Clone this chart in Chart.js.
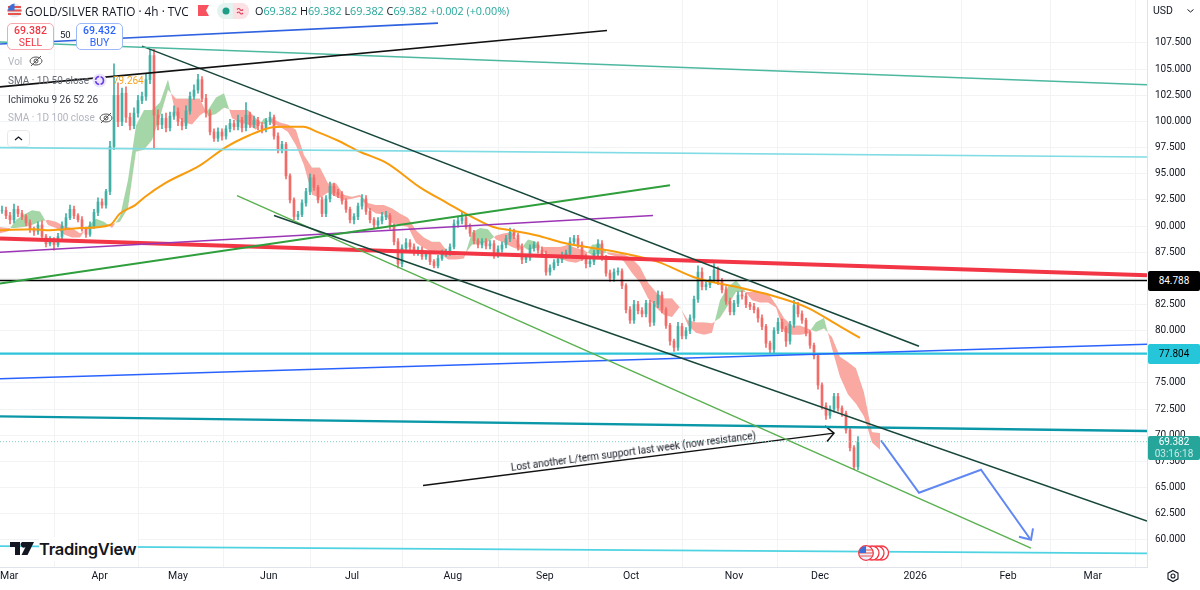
<!DOCTYPE html>
<html>
<head>
<meta charset="utf-8">
<script src="https://cdn.jsdelivr.net/npm/chart.js@4"></script>
<style>
html, body { margin: 0; padding: 0; background: #fff; }
#wrap { position: relative; width: 1200px; height: 590px; overflow: hidden; font-family: Roboto, sans-serif; color: #131722; }
#gold_silver { position: absolute; left: 0; top: 0; }
.t { position: absolute; white-space: nowrap; font-size: 10px; line-height: 14px; font-family: Roboto, sans-serif; }
.tag { position: absolute; left: 1148px; width: 52px; text-align: center; font-size: 10px; border-radius: 2px; }
.gray { color: #b2b5be; }
.box { position: absolute; background: #fff; border-radius: 5px; text-align: center; box-sizing: border-box; width: 47px; height: 27px; top: 23px; font-size: 10.5px; line-height: 12px; padding-top: 1px; }
svg { position: absolute; overflow: visible; }
</style>
</head>
<body>
<div id="wrap">
<canvas id="gold_silver" width="1200" height="590"></canvas>

<div class="t" style="left:25px;top:3px;font-size:11.8px;line-height:16px;font-family:'Open Sans';">GOLD/SILVER RATIO · 4h · TVC</div>
<svg style="left:7px;top:3px" width="15" height="15"><circle cx="7.5" cy="7.5" r="7" fill="#e9e9ee"/><path d="M1 4h13M0.5 7.5h14M1 11h13" stroke="#e8524a" stroke-width="2"/><path d="M1 7.5A7 7 0 0 1 7.5 .5V7.5Z" fill="#3b6fd8"/></svg>
<svg style="left:198px;top:5px" width="11" height="11"><path d="M0 0H11L8 5.5 11 11H0Z" fill="#f7525f"/></svg>
<svg style="left:217px;top:3px" width="32" height="16"><rect width="32" height="16" rx="8" fill="#e4f3ef"/><path d="M16 0h8a8 8 0 0 1 0 16h-8Z" fill="#fbe0e4"/><circle cx="9" cy="8" r="3.5" fill="#1e9e86"/><path d="M20 6.5q2-2 3 0t3 0M20 10q2-2 3 0t3 0" fill="none" stroke="#e0405a" stroke-width="1.2"/></svg>
<div class="t" style="left:255px;top:4px;font-size:10.8px;font-family:'Open Sans';"><span>O</span><span style="color:#26a69a">69.382</span> <span>H</span><span style="color:#26a69a">69.382</span> <span>L</span><span style="color:#26a69a">69.382</span> <span>C</span><span style="color:#26a69a">69.382</span> <span style="color:#26a69a">+0.002 (+0.00%)</span></div>

<div class="box" style="left:7px;border:1px solid #f7a6ad;color:#f23645;"><b style="font-weight:500">69.382</b><br>SELL</div>
<div class="t" style="left:60px;top:28px;font-size:9.5px;">50</div>
<div class="box" style="left:76px;border:1px solid #9db8f8;color:#2962ff;"><b style="font-weight:500">69.432</b><br>BUY</div>

<div class="t gray" style="left:8px;top:55px;">Vol</div>
<svg style="left:29px;top:55px" width="14" height="12"><ellipse cx="7" cy="6" rx="6" ry="4" fill="none" stroke="#555" stroke-width="1"/><circle cx="7" cy="6" r="2" fill="none" stroke="#555"/><path d="M2 11L12 1" stroke="#555"/></svg>
<div class="t" style="left:8px;top:74px;color:#6a6d78;">SMA · 1D 50 close</div>
<svg style="left:92px;top:73px" width="15" height="15"><circle cx="7.5" cy="7.5" r="7" fill="#ece6fb"/><circle cx="7.5" cy="7.5" r="4" fill="none" stroke="#6a3de8" stroke-width="1.6" stroke-dasharray="5 1.5"/></svg>
<div class="t" style="left:113px;top:74px;color:#f7a21b;">79.264</div>
<div class="t" style="left:8px;top:93px;color:#3a3d47;">Ichimoku 9 26 52 26</div>
<div class="t gray" style="left:8px;top:111px;">SMA · 1D 100 close</div>
<svg style="left:99px;top:112px" width="14" height="12"><ellipse cx="7" cy="6" rx="6" ry="4" fill="none" stroke="#555" stroke-width="1"/><circle cx="7" cy="6" r="2" fill="none" stroke="#555"/><path d="M2 11L12 1" stroke="#555"/></svg>
<svg style="left:7px;top:130px" width="23" height="17"><rect x=".5" y=".5" width="22" height="16" rx="3" fill="#fff" stroke="#e6e7eb"/><path d="M8 10l3.500-3 3.500 3" fill="none" stroke="#131722" stroke-width="1.2"/></svg>

<div class="t" style="left:511px;top:461px;font-size:10px;transform:rotate(-7.5deg);transform-origin:left center;">Lost another L/term support last week (now resistance)</div>

<svg style="left:10px;top:542px" width="24" height="13"><path d="M0 0H10V13H5V5H0Z M12 0H24L17.500 13H11.500L15.500 5 A2.500 2.500 0 0 1 12 0Z" fill="#131722"/></svg>
<div class="t" style="left:39px;top:537px;font-size:16.5px;line-height:24px;font-weight:600;font-family:Inter,sans-serif;letter-spacing:-.3px;background:#fff;padding-right:2px;">TradingView</div>

<svg style="left:858px;top:545px" width="32" height="16"><g fill="#fff" stroke="#f23645" stroke-width="1.300"><circle cx="23.500" cy="8" r="7"/><circle cx="19" cy="8" r="7"/><circle cx="14" cy="8" r="7"/></g><circle cx="8" cy="8" r="7.300" fill="#eef" stroke="#f23645" stroke-width="1.300"/><path d="M1 5h14M1 8h14M2 11h12" stroke="#e8524a"/><path d="M1 8A7 7 0 0 1 8 1V8Z" fill="#3b6fd8"/></svg>

<div class="t" style="left:1153px;top:4px;font-size:10.5px;">USD</div>
<svg style="left:1187px;top:9px" width="7" height="4"><path d="M.5 .5L3.500 3 6.500 .5" fill="none" stroke="#131722"/></svg>
<div class="tag" style="top:271px;height:20px;line-height:20px;background:#000;color:#fff;">84.788</div>
<div class="tag" style="top:344px;height:20px;line-height:20px;background:#26c6da;color:#000;">77.804</div>
<div class="tag" style="top:436px;height:24px;line-height:12px;background:#26a69a;color:#fff;">69.382<br><span style="opacity:.75">03:16:18</span></div>
<svg style="left:1166px;top:569px" width="14" height="14"><path d="M7 1.500L12 4.200V9.800L7 12.500 2 9.800V4.200Z" fill="none" stroke="#131722" stroke-width="1.100"/><circle cx="7" cy="7" r="2" fill="none" stroke="#131722" stroke-width="1.100"/></svg>
</div>

<script>
// x is counted in chart sessions, one candle per session
const monthTicks = [2.3, 24.9, 44.5, 67.2, 88, 113.2, 136.2, 157.8, 183.5, 205, 228.8, 252, 273.2]
const monthLabels = ['Mar', 'Apr', 'May', 'Jun', 'Jul', 'Aug', 'Sep', 'Oct', 'Nov', 'Dec', '2026', 'Feb', 'Mar']
const priceTicks = [107.5, 105, 102.5, 100, 97.5, 95, 92.5, 90, 87.5, 85, 82.5, 80, 75, 72.5, 70, 67.5, 65, 62.5, 60]

const closes = [
    91.5,91.0,90.6,91.6,91.2,90.9,90.3,89.7,89.5,90.1,
    89.0,88.3,88.7,88.2,89.0,90.0,90.8,91.6,91.0,90.6,
    89.7,89.2,90.0,91.3,92.3,92.0,93.3,97.6,102.5,100.0,
    102.7,100.4,99.6,100.8,102.0,102.4,104.0,106.3,100.6,99.7,
    100.3,99.4,100.5,100.9,100.0,99.6,101.0,102.4,103.0,104.0,
    102.2,100.8,99.0,98.4,99.0,98.6,99.3,99.8,99.5,100.1,
    99.4,100.6,99.7,100.1,99.6,99.3,100.0,100.4,98.6,97.3,
    97.8,94.8,92.5,90.9,91.1,92.2,93.3,94.6,93.7,92.5,
    91.2,92.6,93.8,93.2,93.0,92.4,91.6,90.6,90.9,91.9,
    92.6,91.4,90.6,90.1,90.5,90.9,91.0,90.0,88.5,86.4,
    87.9,88.4,88.0,87.5,87.7,87.1,87.3,86.6,86.2,86.9,
    87.4,87.5,88.0,90.2,90.5,90.8,89.9,89.3,88.6,88.2,
    88.5,88.1,88.3,87.3,87.8,88.2,88.8,89.4,89.1,88.0,
    86.8,87.0,87.9,88.2,87.7,87.3,85.6,86.0,86.5,86.8,
    87.2,87.4,88.5,88.8,88.2,87.0,86.4,86.6,87.4,88.3,
    87.0,85.5,85.0,85.6,85.7,84.3,82.0,81.0,82.5,81.9,
    81.6,82.6,80.8,82.5,83.4,82.0,80.5,79.0,78.4,80.4,
    79.5,80.0,81.2,83.0,85.6,84.2,84.4,84.9,85.8,84.7,
    83.9,82.8,81.8,82.6,83.4,83.3,82.5,82.3,82.0,81.2,
    80.4,78.8,78.2,80.0,80.8,80.2,79.0,80.6,82.4,81.6,
    81.0,79.8,78.6,77.6,74.8,72.8,71.9,72.5,73.7,72.6,
    72.1,70.5,68.8,67.0,69.38
]
const wickUp = [
    .4,.3,.3,.5,.3,.3,.2,.3,.2,.3,
    .4,.2,.3,.2,.3,.4,.4,.4,.3,.2,
    .3,.2,.4,.3,.4,.3,.2,.5,3.0,1.2,
    .5,.6,.4,.5,.5,.4,.6,.6,.6,.5,
    .4,.5,.4,.6,.4,.3,.5,.4,.5,.5,
    .3,.4,.3,.3,.4,.3,.3,.4,.3,.5,
    .3,1.2,.3,.4,.3,.3,.3,.5,.2,.3,
    .3,.2,.2,.2,.3,.3,.3,.4,.3,.2,
    .3,.3,.4,.3,.3,.3,.2,.2,.3,.3,
    .4,.3,.3,.2,.3,.4,.4,.2,.2,.3,
    .3,.4,.3,.3,.3,.3,.3,.2,.2,.3,
    .3,.3,.3,.4,.4,.5,.3,.3,.3,.2,
    .3,.3,.3,.3,.3,.3,.3,.4,.3,.2,
    .3,.3,.3,.3,.3,.3,.3,.3,.3,.3,
    .3,.3,.4,.3,.3,.3,.3,.3,.3,.4,
    .3,.2,.3,.3,.3,.2,.2,.3,.4,.3,
    .3,.3,.3,.3,.4,.3,.2,.2,.2,.4,
    .3,.3,.3,.3,.6,.4,.3,.3,.6,.3,
    .3,.3,.3,.3,.3,.4,.3,.2,.3,.2,
    .3,.2,.2,.3,.4,.3,.2,.3,.5,.3,
    .3,.2,.2,.2,.2,.2,.3,.3,.3,.3,
    .2,.2,.2,.2,.5
]
const wickDown = [
    .3,.3,.4,.3,.3,.3,.3,.3,.4,.3,
    .3,.3,.2,.5,.2,.3,.3,.2,.3,.2,
    .2,.3,.2,.2,.3,.3,.3,.3,.3,.5,
    .4,.5,.4,.3,.4,.3,.4,.4,3.2,.5,
    .4,.4,.3,.3,.4,.4,.3,.3,.3,.3,
    .3,.4,.3,.3,.3,.4,.3,.3,.3,.3,
    .4,.3,.3,.3,.4,.4,.3,.3,.3,.3,
    .3,.3,.3,.3,.3,.2,.3,.3,.3,.3,
    .3,.3,.3,.3,.3,.3,.3,.3,.4,.3,
    .3,.3,.3,.3,.3,.3,.3,.3,.3,.4,
    .3,.3,.3,.3,.3,.3,.3,.3,.2,.2,
    .2,.3,.3,.2,.3,.3,.2,.3,.3,.3,
    .3,.3,.3,.4,.3,.3,.3,.3,.3,.3,
    .4,.3,.3,.3,.3,.3,.3,.3,.2,.3,
    .3,.3,.3,.3,.3,.3,.4,.3,.3,.3,
    .3,.3,.3,.3,.3,.3,.3,.3,.3,.3,
    .3,.3,.4,.3,.3,.3,.3,.4,.4,.3,
    .3,.3,.3,.3,.3,.3,.3,.3,.3,.3,
    .3,.3,.3,.3,.3,.3,.3,.3,.3,.4,
    .3,.4,.3,.3,.3,.3,.5,.3,.3,.3,
    .3,.3,.3,.3,.4,.3,.4,.3,.3,.3,
    .3,.3,.3,.3,.3
]

// one cloud value every second session, green where A is on top
const cloudStep = 2
const senkouA = [
    89.3,89.5,90.6,91.1,91.5,91.4,90.1,89.8,89.2,88.9,
    88.9,90.0,90.7,90.4,89.8,90.9,94.4,99.6,101.1,101.1,
    101.8,104.0,100.6,99.9,99.7,100.6,101.1,102.3,102.7,100.3,
    99.9,99.7,99.2,100.3,99.8,99.5,99.0,97.7,95.8,93.0,
    92.7,93.2,92.8,92.5,92.6,92.8,91.7,91.2,91.1,90.3,
    90.1,89.9,88.4,87.9,87.5,87.4,86.8,86.8,86.9,89.4,
    89.8,89.7,88.7,88.4,88.0,87.7,88.7,88.5,87.5,87.1,
    86.9,86.6,86.5,86.8,88.2,88.3,87.3,87.1,86.6,85.5,
    84.6,83.1,82.2,81.5,81.3,82.3,80.5,79.8,79.6,79.8,
    82.9,84.2,84.8,83.9,82.9,82.7,82.7,82.2,79.9,79.6,
    79.6,79.7,80.8,81.2,78.3,75.6,73.9,73.0,71.8,69.3,
    68.6
]
const senkouB = [
    89.9,89.8,89.8,89.9,90.1,90.4,90.6,90.4,90.0,89.8,
    89.3,89.7,89.8,90.0,90.2,90.4,91.7,97.1,97.3,98.2,
    100.4,103.0,102.2,102.2,102.2,102.2,100.5,100.7,101.3,101.1,
    101.1,101.1,100.3,99.7,100.3,99.9,99.7,99.2,96.8,95.6,
    95.6,94.1,94.1,93.0,92.8,93.0,92.2,92.0,92.0,91.7,
    91.2,90.8,89.6,88.9,88.5,88.5,87.5,87.2,87.2,88.2,
    88.3,88.5,89.1,89.3,89.4,88.2,87.7,87.9,88.0,88.0,
    88.0,88.2,87.9,87.7,87.2,87.3,87.5,87.4,87.3,86.9,
    86.1,84.6,83.7,83.1,83.1,82.2,81.0,80.8,80.8,80.7,
    81.2,82.4,83.7,83.7,83.7,83.7,83.6,82.5,81.2,80.5,
    80.5,80.2,79.9,80.2,79.4,77.5,77.0,76.4,74.1,70.3,
    70.2
]

const smaX = [0, 8.3, 12.5, 20, 27.5, 30, 33.8, 36.3, 41.3, 50, 56.3, 62.5, 67.5, 71.3, 75.8, 79.3, 84.3, 90, 96.8, 105, 111.8, 118.3, 123.3, 127.5, 134.3, 140.8, 154.5, 164.3, 174.3, 185, 192.5, 201.8, 210, 215]
const smaY = [89.6, 89.7, 89.6, 89.8, 90.1, 91.2, 92.0, 92.8, 94.1, 95.8, 97.5, 98.7, 99.4, 99.5, 99.5, 99.0, 98.2, 97.1, 96.0, 93.7, 92.2, 90.8, 89.9, 89.6, 89.1, 88.4, 87.5, 86.6, 85.0, 84.1, 83.4, 82.2, 80.4, 79.3]

// drawn trend lines, session / price at each end
const lastX = [0, 286.75]
const blueTopX = [0, 109.5], blueTopY = [107.4, 109.4]
const blackTopX = [0, 151.75], blackTopY = [103.3, 108.7]
const tealTopY = [107.6, 103.5]
const channelUpX = [35.5, 229.75], channelUpY = [107.2, 78.5]
const channelLowX = [68.5, 286.75], channelLowY = [91.0, 61.8]
const cyanTopY = [97.5, 96.6]
const greenThinX = [59.25, 257.75], greenThinY = [92.9, 59.2]
const greenThickX = [0, 167.5], greenThickY = [84.5, 93.9]
const purpleX = [0, 163.25], purpleY = [87.5, 91.0]
const redY = [88.8, 85.3]
const level1Y = [84.788, 84.788]
const level2Y = [77.804, 77.804]
const blueLowY = [75.4, 78.7]
const tealLowY = [71.8, 70.4]
const cyanLowY = [59.4, 58.7]
const lastPriceY = [69.382, 69.382]
const noteLineX = [105.75, 208.5], noteLineY = [65.2, 70.2]
const noteHeadX = [206.25, 208.5, 206.75], noteHeadY = [70.9, 70.2, 69.4]
const pathX = [220.25, 229.75, 245.25, 257.5], pathY = [69.5, 64.5, 66.7, 60.1]
const pathHeadX = [254.75, 257.75, 258.25], pathHeadY = [60.3, 60.0, 61.1]

const pts = (xs, ys) => xs.map((x, i) => ({ x: x, y: ys[i] }))
const line = (xs, ys, color, width, extra) => Object.assign({
    type: 'line',
    data: pts(xs, ys),
    borderColor: color,
    borderWidth: width,
    pointRadius: 0,
    fill: false,
    tension: 0,
    order: 1
}, extra || {})

const opens = closes.map((c, i) => i == 0 ? c : closes[i - 1])
const candleColors = closes.map((c, i) => c >= opens[i] ? '#42b0a5' : '#f16c69')
const sessionX = closes.map((c, i) => i + 0.5)
const cloudX = senkouA.map((v, i) => i * cloudStep)

const data_g = {
    datasets: [
        // cloud first so everything else sits on top of it
        line(cloudX, senkouA, 'rgba(0,0,0,0)', 0, {
            fill: { target: '+1', above: '#a5d6a7', below: '#f9a8a2' },
            order: 9
        }),
        line(cloudX, senkouB, 'rgba(0,0,0,0)', 0, { order: 9 }),
        {
            type: 'bar',
            grouped: false,
            data: sessionX.map((x, i) => ({ x: x, y: [Math.min(opens[i], closes[i]) - wickDown[i], Math.max(opens[i], closes[i]) + wickUp[i]] })),
            backgroundColor: candleColors,
            barThickness: 1,
            order: 5
        },
        {
            type: 'bar',
            grouped: false,
            data: sessionX.map((x, i) => ({ x: x, y: [opens[i], closes[i]] })),
            backgroundColor: candleColors,
            barThickness: 2,
            order: 4
        },
        line(smaX, smaY, '#f89c0e', 2, { order: 3, cubicInterpolationMode: 'monotone' }),
        line(blueTopX, blueTopY, '#2f62e0', 1.6),
        line(blackTopX, blackTopY, '#111', 1.6),
        line(lastX, tealTopY, '#4db8a0', 1.4),
        line(channelUpX, channelUpY, '#17463a', 1.6),
        line(channelLowX, channelLowY, '#17463a', 1.6),
        line(lastX, cyanTopY, '#7fdbe4', 1.6),
        line(greenThinX, greenThinY, '#58b04f', 1.4),
        line(greenThickX, greenThickY, '#2f9e3c', 2),
        line(purpleX, purpleY, '#9c35b5', 1.5),
        line(lastX, redY, '#f23645', 4),
        line(lastX, level1Y, '#000', 1.5),
        line(lastX, blueLowY, '#2962ff', 1.6),
        line(lastX, level2Y, '#2cc4d8', 2.4),
        line(lastX, tealLowY, '#0a97a8', 2.4),
        line(lastX, cyanLowY, '#4fd3e2', 1.6),
        line(lastX, lastPriceY, '#7fcfc6', 1, { borderDash: [1, 2] }),
        line(noteLineX, noteLineY, '#111', 1.5),
        line(noteHeadX, noteHeadY, '#111', 1.5),
        line(pathX, pathY, '#6188f2', 2),
        line(pathHeadX, pathHeadY, '#6188f2', 2)
    ]
}

const config_g = {
    type: 'bar',
    data: data_g,
    options: {
        responsive: false,
        animation: false,
        devicePixelRatio: 1,
        layout: { padding: 0 },
        plugins: { legend: { display: false }, tooltip: { enabled: false } },
        scales: {
            x: {
                type: 'linear',
                min: 0,
                max: 286.75,
                offset: false,
                afterBuildTicks: s => { s.ticks = monthTicks.map(v => ({ value: v })) },
                afterFit: s => { s.height = 23; s.paddingLeft = 0; s.paddingRight = 0 },
                grid: { color: '#f2f3f5', drawTicks: false },
                border: { color: '#e0e3eb' },
                ticks: {
                    autoSkip: false,
                    maxRotation: 0,
                    padding: 3,
                    color: '#131722',
                    font: { family: 'Roboto', size: 10.5 },
                    callback: v => monthLabels[monthTicks.indexOf(v)]
                }
            },
            y: {
                position: 'right',
                min: 57.4,
                max: 111.61,
                afterBuildTicks: s => { s.ticks = priceTicks.map(v => ({ value: v })) },
                afterFit: s => { s.width = 53; s.paddingTop = 0; s.paddingBottom = 0 },
                grid: { color: '#f2f3f5', drawTicks: false },
                border: { color: '#e0e3eb' },
                ticks: {
                    padding: 8,
                    color: '#131722',
                    font: { family: 'Roboto', size: 10 },
                    callback: v => v.toFixed(3)
                }
            }
        }
    }
}

const myChart_g = new Chart(document.getElementById('gold_silver'), config_g)
</script>
</body>
</html>
